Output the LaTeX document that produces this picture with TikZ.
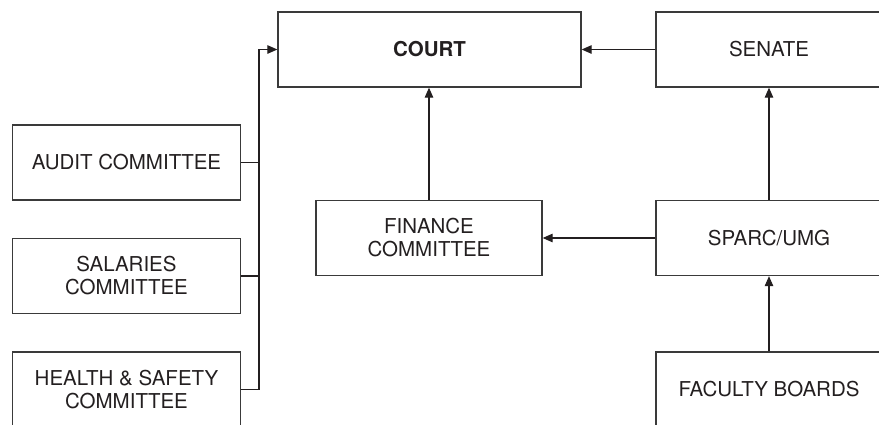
\documentclass[tikz,border=0pt]{standalone}
\usepackage{fontspec}
\setmainfont{TeX Gyre Heros}
\usetikzlibrary{arrows.meta}
\definecolor{ink}{HTML}{231F20}
\definecolor{edge}{HTML}{3A3A3A}
\tikzset{
  orgbox/.style={draw=edge, line width=1.3pt, text=ink, align=center,
    minimum height=75pt, inner sep=2pt,
    font=\fontsize{20.5}{23}\selectfont},
  link/.style={draw=ink, line width=1.1pt},
  arr/.style={link, -{Triangle[length=10pt,width=8.5pt]}}
}
\begin{document}
\begin{tikzpicture}[x=1pt,y=-1pt]
\useasboundingbox (0,0) rectangle (879,424);
\clip (0,0) rectangle (879,424);
\node[orgbox, minimum width=303pt] (court) at (429.5,49.5) {\textbf{COURT}};
\node[orgbox, minimum width=226pt] (senate) at (769,49.5) {SENATE};
\node[orgbox, minimum width=228pt] (audit) at (126.5,162.5) {AUDIT COMMITTEE};
\node[orgbox, minimum width=228pt] (salaries) at (126.5,276) {SALARIES\\COMMITTEE};
\node[orgbox, minimum width=228pt] (health) at (126.5,389.5) {HEALTH \& SAFETY\\COMMITTEE};
\node[orgbox, minimum width=226pt] (finance) at (429,238) {FINANCE\\COMMITTEE};
\node[orgbox, minimum width=226pt] (sparc) at (769,238) {SPARC/UMG};
\node[orgbox, minimum width=226pt] (faculty) at (769,389.5) {FACULTY BOARDS};
\coordinate (bus) at (259,0);
\draw[arr] (senate.west) -- (court.east);
\draw[arr] (finance.north) -- (court.south -| finance.north);
\draw[arr] (sparc.west) -- (finance.east);
\draw[arr] (sparc.north) -- (senate.south);
\draw[arr] (faculty.north) -- (sparc.south);
\draw[arr] (health.east) -- (health.east -| bus) -- (bus |- court.west) -- (court.west);
\draw[link] (audit.east) -- (audit.east -| bus);
\draw[link] (salaries.east) -- (salaries.east -| bus);
\end{tikzpicture}
\end{document}
